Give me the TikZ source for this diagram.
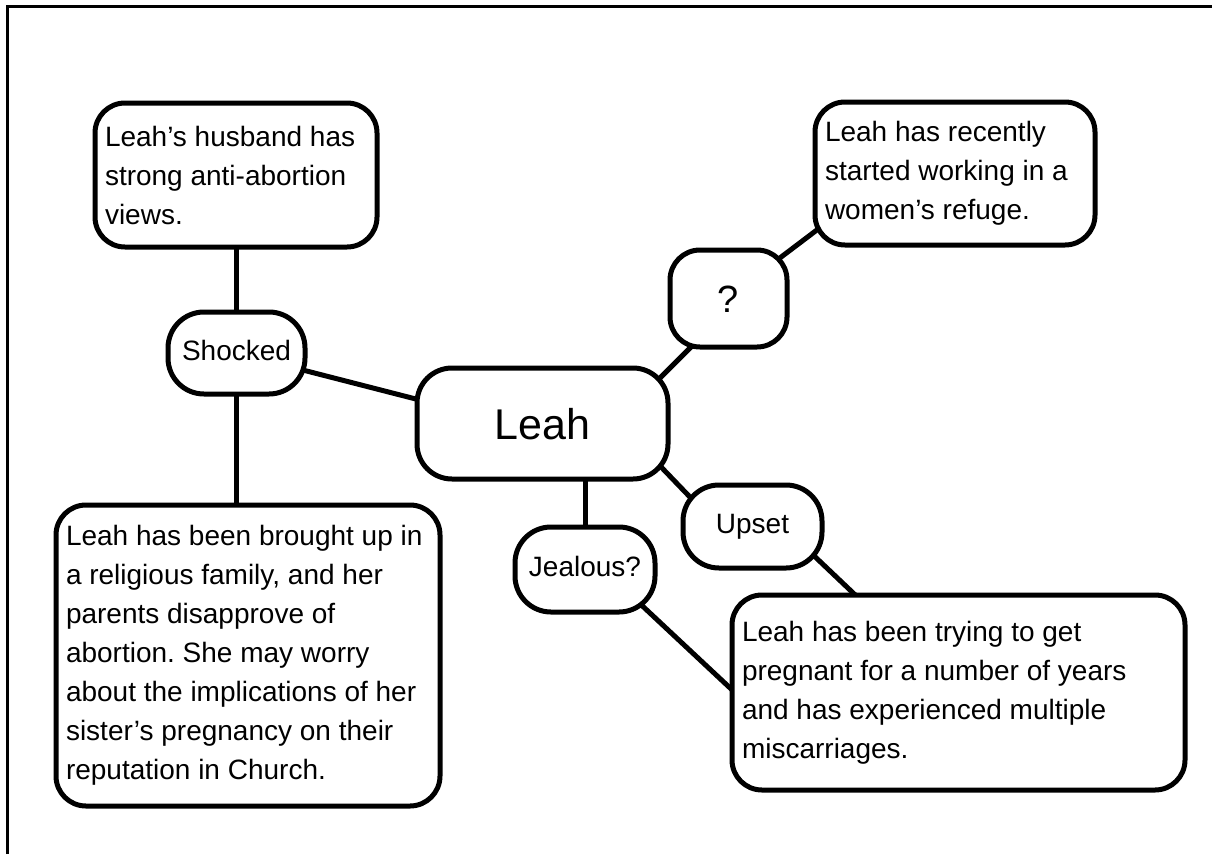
\documentclass[tikz,border=0pt]{standalone}
\usepackage{fontspec}
\setmainfont{Liberation Sans}
\usetikzlibrary{calc,backgrounds}
\begin{document}
\begin{tikzpicture}[x=1pt,y=-1pt,
  box/.style={draw, line width=5pt, fill=white, rounded corners=30pt, inner xsep=10pt, inner ysep=0pt, align=flush left, font=\fontsize{28}{39}\selectfont\frenchspacing, outer sep=0pt},
  pill/.style={draw, line width=5pt, fill=white, rounded corners=36pt, inner sep=0pt, text height=20pt, text depth=6pt, font=\fontsize{28}{39}\selectfont, outer sep=0pt},
  link/.style={line width=5pt},
  frame/.style={line width=2.5pt}]
\useasboundingbox (0,0) rectangle (1212,854);
\draw[frame] (7.5,854) -- (7.5,6.5) -- (1212,6.5);

\node[box, text width=262pt, minimum height=144pt] (husband) at (236,175)
  {Leah’s husband has\\strong anti-abortion\\views.};
\node[pill, minimum width=137pt, minimum height=82pt] (shocked) at (236.5,353) {Shocked};
\node[box, text width=364pt, minimum height=301pt] (religious) at (248,655.5)
  {Leah has been brought up in\\a religious family, and her\\parents disapprove of\\abortion. She may worry\\about the implications of her\\sister’s pregnancy on their\\reputation in Church.};
\node[pill, rounded corners=35pt, minimum width=251pt, minimum height=111pt, text height=31pt, text depth=0pt, font=\fontsize{43}{50}\selectfont] (leah) at (542.5,423.5) {Leah};
\node[pill, rounded corners=30pt, minimum width=117pt, minimum height=97pt, text height=28pt, text depth=0pt, font=\fontsize{38}{44}\selectfont] (question) at (728.5,298.5) {?};
\node[box, text width=260pt, minimum height=143pt] (refuge) at (955,173.5)
  {Leah has recently\\started working in a\\women’s refuge.};
\node[pill, minimum width=139pt, minimum height=83pt] (upset) at (752.5,526.5) {Upset};
\node[pill, minimum width=140pt, minimum height=85pt] (jealous) at (585,569.5) {Jealous?};
\node[box, text width=433pt, minimum height=195pt] (pregnant) at (958.5,692.5)
  {Leah has been trying to get\\pregnant for a number of years\\and has experienced multiple\\miscarriages.};

\begin{scope}[on background layer]
\fill[white] (0,0) rectangle (1212,854);
\draw[link] (shocked.center |- husband.center) -- (shocked.center);
\draw[link] (shocked.center) -- (shocked.center |- religious.center);
\draw[link] (shocked.center) -- ($(leah.center)+(0,8)$);
\draw[link] ($(leah.center)+(97.5,-25.5)$) -- ($(question.center)+(-8.5,19.5)$);
\draw[link] ($(question.center)+(31.5,-25.5)$) -- ($(refuge.center)+(-115,39)$);
\draw[link] ($(leah.center)+(97.5,21.5)$) -- ($(upset.center)+(-40.5,-6.5)$);
\draw[link] ($(upset.center)+(37.5,6.5)$) -- ($(pregnant.center)+(-88.5,-83.5)$);
\draw[link] (jealous.center |- leah.center) -- (jealous.center);
\draw[link] ($(jealous.center)+(35,15.5)$) -- ($(pregnant.center)+(-198.5,23.5)$);
\end{scope}
\end{tikzpicture}
\end{document}
